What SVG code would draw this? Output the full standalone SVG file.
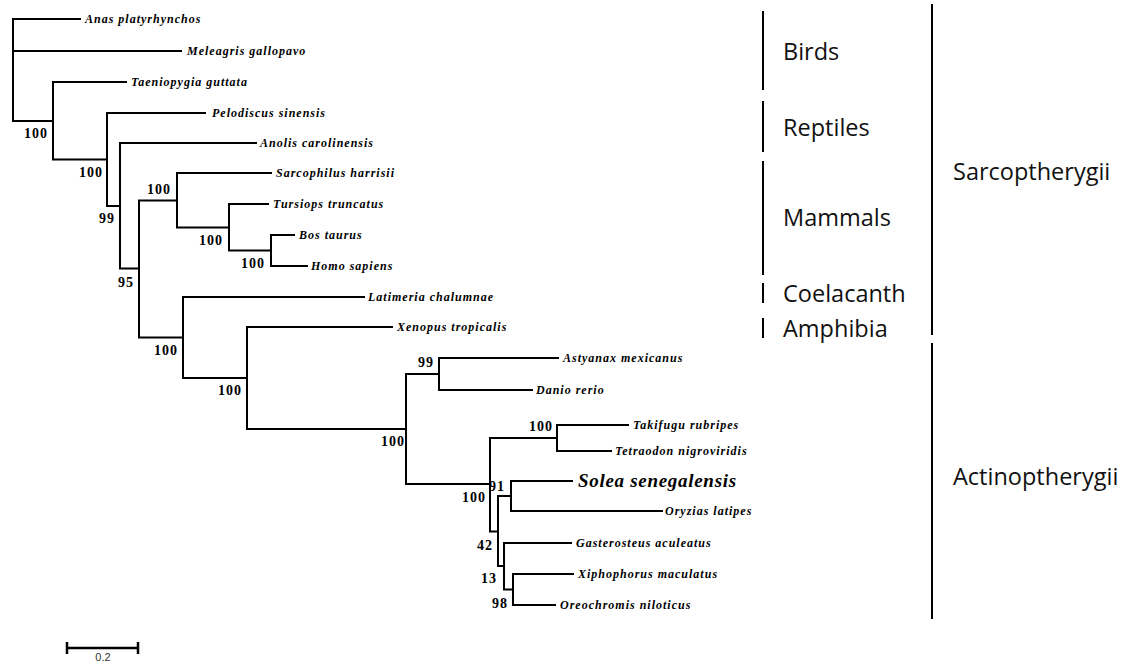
<svg xmlns="http://www.w3.org/2000/svg" width="1130" height="664" viewBox="0 0 1130 664">
<style>
.br{fill:none;stroke:#000;stroke-width:2;stroke-linecap:square}
.tx{font-family:"Liberation Serif",serif;font-style:italic;font-weight:bold;font-size:12px;letter-spacing:1px;fill:#000}
.big{font-size:19px;letter-spacing:0.7px}
.bs{font-family:"Liberation Serif",serif;font-weight:bold;font-size:14px;letter-spacing:1px;fill:#000;text-anchor:end}
.grp{font-family:"Open Sans",sans-serif;font-size:23.5px;fill:#111}
.bar{stroke:#000;stroke-width:2}
.sc{font-family:"Liberation Sans",sans-serif;font-size:11px;fill:#333;text-anchor:middle}
</style>
<rect width="1130" height="664" fill="#fff"/>
<g id="connectors">
<path class="br" d="M13 19V121M13 19H80M13 51H181M13 121H53"/>
<path class="br" d="M53 82V159.5M53 82H126M53 159.5H107"/>
<path class="br" d="M107 113V206M107 113H205M107 206H120"/>
<path class="br" d="M120 143V268.5M120 143H256M120 268.5H139"/>
<path class="br" d="M139 200.5V337.5M139 200.5H177M139 337.5H183"/>
<path class="br" d="M177 173V227.5M177 173H271M177 227.5H229"/>
<path class="br" d="M229 204V250.5M229 204H268M229 250.5H271"/>
<path class="br" d="M271 235V266M271 235H294M271 266H307"/>
<path class="br" d="M183 297V378M183 297H364M183 378H247"/>
<path class="br" d="M247 327V429M247 327H392M247 429H406"/>
<path class="br" d="M406 374V484M406 374H439M406 484H490"/>
<path class="br" d="M439 358V390M439 358H558M439 390H532"/>
<path class="br" d="M490 438V531.5M490 438H557M490 531.5H498"/>
<path class="br" d="M557 425V451M557 425H628M557 451H611"/>
<path class="br" d="M498 496V566M498 496H511M498 566H504"/>
<path class="br" d="M511 481V511M511 481H572M511 511H662"/>
<path class="br" d="M504 543V589.5M504 543H571M504 589.5H513"/>
<path class="br" d="M513 574V605M513 574H573M513 605H555"/>
</g>
<g id="taxa">
<g id="t-anas"><text class="tx" x="85" y="23">Anas platyrhynchos</text></g>
<g id="t-meleagris"><text class="tx" x="187" y="55">Meleagris gallopavo</text></g>
<g id="t-taeniopygia"><text class="tx" x="131" y="86">Taeniopygia guttata</text></g>
<g id="t-pelodiscus"><text class="tx" x="212" y="117">Pelodiscus sinensis</text></g>
<g id="t-anolis"><text class="tx" x="260" y="147">Anolis carolinensis</text></g>
<g id="t-sarcophilus"><text class="tx" x="276" y="177">Sarcophilus harrisii</text></g>
<g id="t-tursiops"><text class="tx" x="273" y="208">Tursiops truncatus</text></g>
<g id="t-bos"><text class="tx" x="299" y="239">Bos taurus</text></g>
<g id="t-homo"><text class="tx" x="311" y="270">Homo sapiens</text></g>
<g id="t-latimeria"><text class="tx" x="368" y="301">Latimeria chalumnae</text></g>
<g id="t-xenopus"><text class="tx" x="397" y="331">Xenopus tropicalis</text></g>
<g id="t-astyanax"><text class="tx" x="563" y="362">Astyanax mexicanus</text></g>
<g id="t-danio"><text class="tx" x="536" y="394">Danio rerio</text></g>
<g id="t-takifugu"><text class="tx" x="633" y="429">Takifugu rubripes</text></g>
<g id="t-tetraodon"><text class="tx" x="615" y="455">Tetraodon nigroviridis</text></g>
<g id="t-solea"><text class="tx big" x="578" y="487">Solea senegalensis</text></g>
<g id="t-oryzias"><text class="tx" x="665" y="515">Oryzias latipes</text></g>
<g id="t-gasterosteus"><text class="tx" x="576" y="547">Gasterosteus aculeatus</text></g>
<g id="t-xiphophorus"><text class="tx" x="578" y="578">Xiphophorus maculatus</text></g>
<g id="t-oreochromis"><text class="tx" x="560" y="609">Oreochromis niloticus</text></g>
</g>
<g id="bootstrap">
<g id="n53"><text class="bs" x="48" y="138">100</text></g>
<g id="n107"><text class="bs" x="103" y="177">100</text></g>
<g id="n120"><text class="bs" x="115" y="223">99</text></g>
<g id="n139"><text class="bs" x="134" y="287">95</text></g>
<g id="n177"><text class="bs" x="171" y="194">100</text></g>
<g id="n229"><text class="bs" x="223" y="245">100</text></g>
<g id="n271"><text class="bs" x="265" y="268">100</text></g>
<g id="n183"><text class="bs" x="178" y="355">100</text></g>
<g id="n247"><text class="bs" x="242" y="395">100</text></g>
<g id="n439"><text class="bs" x="434" y="367">99</text></g>
<g id="n406"><text class="bs" x="405" y="446">100</text></g>
<g id="n557"><text class="bs" x="553" y="431">100</text></g>
<g id="n511"><text class="bs" x="505" y="491">91</text></g>
<g id="n490"><text class="bs" x="486" y="502">100</text></g>
<g id="n498"><text class="bs" x="493" y="550">42</text></g>
<g id="n504"><text class="bs" x="497" y="583">13</text></g>
<g id="n513"><text class="bs" x="508" y="608">98</text></g>
</g>
<g id="groups">
<g id="g-birds"><line class="bar" x1="763" y1="11" x2="763" y2="90"/><text class="grp" x="783" y="60">Birds</text></g>
<g id="g-reptiles"><line class="bar" x1="763" y1="101" x2="763" y2="152"/><text class="grp" x="783" y="136">Reptiles</text></g>
<g id="g-mammals"><line class="bar" x1="763" y1="161" x2="763" y2="275"/><text class="grp" x="783" y="226">Mammals</text></g>
<g id="g-coelacanth"><line class="bar" x1="763" y1="283" x2="763" y2="303"/><text class="grp" x="783" y="302">Coelacanth</text></g>
<g id="g-amphibia"><line class="bar" x1="763" y1="318" x2="763" y2="338"/><text class="grp" x="783" y="337">Amphibia</text></g>
<g id="g-sarco"><line class="bar" x1="932" y1="4" x2="932" y2="335"/><text class="grp" x="953" y="180">Sarcoptherygii</text></g>
<g id="g-actino"><line class="bar" x1="932" y1="343" x2="932" y2="619"/><text class="grp" x="953" y="485">Actinoptherygii</text></g>
</g>
<g id="scale">
<path d="M67 648H138M67 642V654M138 642V654" fill="none" stroke="#000" stroke-width="2.5"/>
<text class="sc" x="103" y="661">0.2</text>
</g>
</svg>
